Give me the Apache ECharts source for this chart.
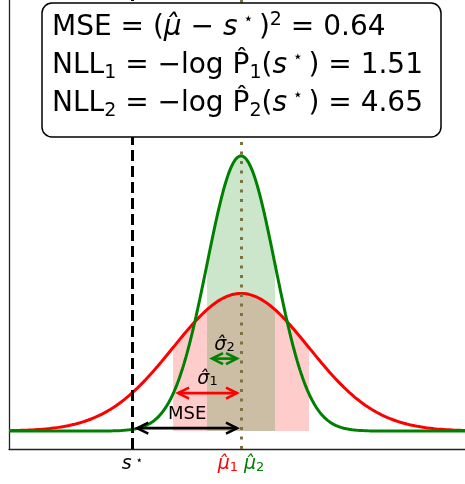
<!DOCTYPE html>
<html>
<head>
<meta charset="utf-8">
<script src="https://cdn.jsdelivr.net/npm/echarts@6/dist/echarts.min.js"></script>
<style>
  html, body { margin: 0; padding: 0; background: #fff; }
  #chart { width: 465px; height: 484px; }
</style>
</head>
<body>
<div id="chart"></div>
<script>
// Ground truth s* and two Gaussian predictions sharing the mean estimate
const sStar = -0.8;
const muHat = 0;
const sigmaHat = [0.5, 0.25];
const curveColors = ['#ff0000', '#008000'];
const xLimits = [-1.707, 1.648];
const yLimits = [-0.104, 2.499];

// Double-headed annotation arrows (start x, end x, height) and their labels
const arrowFrom = [sStar, muHat - sigmaHat[0], muHat - sigmaHat[1]];
const arrowTo = [muHat, muHat, muHat];
const arrowHeight = [0.017, 0.22, 0.42];
const arrowLabels = ['{k|MSE}', '{r|σ̂}{rs|1}', '{g|σ̂}{gs|2}'];
const arrowColors = ['#000000', '#ff0000', '#008000'];

// Metrics shown in the summary box
const metricValues = ['0.64', '1.51', '4.65'];

const FONT = 'DejaVu Sans';

function gaussPdf(x, mu, sd) {
  const z = (x - mu) / sd;
  return Math.exp(-0.5 * z * z) / (sd * Math.sqrt(2 * Math.PI));
}

// sample the densities along the x range
const N = 500;
const xs = [];
for (let i = 0; i <= N; i++) xs.push(xLimits[0] + (xLimits[1] - xLimits[0]) * i / N);

function curve(sd) {
  return xs.map(x => [x, gaussPdf(x, muHat, sd)]);
}
function band(sd) {
  const pts = [];
  const M = 120;
  for (let i = 0; i <= M; i++) {
    const x = muHat - sd + 2 * sd * i / M;
    pts.push([x, gaussPdf(x, muHat, sd)]);
  }
  return pts;
}

const labelRich = {
  k: { color: '#000', fontSize: 18, fontFamily: FONT },
  r: { color: '#ff0000', fontSize: 19, fontFamily: FONT, fontStyle: 'italic' },
  rs: { color: '#ff0000', fontSize: 13, fontFamily: FONT, verticalAlign: 'bottom', lineHeight: 12 },
  g: { color: '#008000', fontSize: 19, fontFamily: FONT, fontStyle: 'italic' },
  gs: { color: '#008000', fontSize: 13, fontFamily: FONT, verticalAlign: 'bottom', lineHeight: 12 },
  s: { color: '#000', fontSize: 19, fontFamily: FONT, fontStyle: 'italic' },
  st: { color: '#000', fontSize: 12, fontFamily: FONT, verticalAlign: 'top', lineHeight: 11 },
  sp: { fontSize: 18, fontFamily: FONT, width: 6 }
};

const boxRich = {
  it: { fontStyle: 'italic', fontSize: 28, fontFamily: FONT, lineHeight: 34 },
  sup: { fontSize: 19, fontFamily: FONT, verticalAlign: 'top', lineHeight: 18 },
  sub: { fontSize: 19, fontFamily: FONT, verticalAlign: 'bottom', lineHeight: 18 },
  star: { fontSize: 17, fontFamily: FONT, verticalAlign: 'top', lineHeight: 22 }
};

const boxLines = [
  'MSE = ({it|μ̂} − {it|s}{star| ⋆ })' + '{sup|2}' + ' = ' + metricValues[0],
  'NLL{sub|1} = −log P̂{sub|1}({it|s}{star| ⋆ }) = ' + metricValues[1],
  'NLL{sub|2} = −log P̂{sub|2}({it|s}{star| ⋆ }) = ' + metricValues[2]
];
const boxLineY = [28, 66, 104];

function renderArrow(params, api) {
  const i = params.dataIndex;
  const p1 = api.coord([api.value(0), api.value(2)]);
  const p2 = api.coord([api.value(1), api.value(2)]);
  const a = p1[0] + 5, b = p2[0] - 4, y = p1[1];
  const hl = 11, hw = 5.5;
  const color = arrowColors[i];
  const st = { stroke: color, lineWidth: 2.6, fill: null, lineJoin: 'miter' };
  return {
    type: 'group',
    children: [
      { type: 'line', shape: { x1: a, y1: y, x2: b, y2: y }, style: st },
      { type: 'polyline', shape: { points: [[a + hl, y - hw], [a, y], [a + hl, y + hw]] }, style: st },
      { type: 'polyline', shape: { points: [[b - hl, y - hw], [b, y], [b - hl, y + hw]] }, style: st },
      {
        type: 'text',
        x: (a + b) / 2, y: y - 14,
        style: {
          text: arrowLabels[i], rich: labelRich,
          align: 'center', verticalAlign: 'middle',
          fontSize: 18, fontFamily: FONT
        }
      }
    ]
  };
}

const boxChildren = [
  {
    type: 'rect', z: 100,
    shape: { x: 42, y: 3, width: 399, height: 134, r: 10 },
    style: { fill: '#fff', stroke: '#000', lineWidth: 1.5 }
  }
].concat(boxLines.map((t, i) => ({
  type: 'text', x: 52, y: boxLineY[i], z: 101,
  style: {
    text: t, rich: boxRich, fill: '#000',
    fontSize: 28, fontFamily: FONT,
    align: 'left', verticalAlign: 'middle', lineHeight: 34
  }
})));

const chart = echarts.init(document.getElementById('chart'));
chart.setOption({
  animation: false,
  grid: { left: 9, right: 0, top: 0, bottom: 35, containLabel: false },
  xAxis: {
    type: 'value', min: xLimits[0], max: xLimits[1],
    axisLine: { show: true, onZero: false, lineStyle: { color: '#222', width: 1.3 } },
    axisTick: { show: false },
    splitLine: { show: false },
    axisLabel: {
      customValues: [sStar, muHat],
      margin: 6,
      rich: labelRich,
      formatter: v => (Math.abs(v - sStar) < 1e-9 ? '{s|s}{st| ⋆}' : '{r|μ̂}{rs|1}{sp| }{g|μ̂}{gs|2}')
    }
  },
  yAxis: {
    type: 'value', min: yLimits[0], max: yLimits[1],
    axisLine: { show: true, onZero: false, lineStyle: { color: '#222', width: 1.3 } },
    axisTick: { show: false },
    axisLabel: { show: false },
    splitLine: { show: false }
  },
  series: [
    {
      type: 'line', data: band(sigmaHat[0]), showSymbol: false, symbol: 'none',
      lineStyle: { width: 0, opacity: 0 },
      areaStyle: { color: curveColors[0], opacity: 0.2, origin: 'auto' },
      silent: true, z: 1
    },
    {
      type: 'line', data: band(sigmaHat[1]), showSymbol: false, symbol: 'none',
      lineStyle: { width: 0, opacity: 0 },
      areaStyle: { color: curveColors[1], opacity: 0.2, origin: 'auto' },
      silent: true, z: 1
    },
    {
      type: 'line', data: curve(sigmaHat[0]), showSymbol: false, symbol: 'none',
      lineStyle: { color: curveColors[0], width: 3 }, silent: true, z: 2
    },
    {
      type: 'line', data: curve(sigmaHat[1]), showSymbol: false, symbol: 'none',
      lineStyle: { color: curveColors[1], width: 3 }, silent: true, z: 3
    },
    {
      type: 'custom',
      data: arrowFrom.map((x, i) => [x, arrowTo[i], arrowHeight[i]]),
      encode: { x: [0, 1], y: 2 },
      renderItem: renderArrow,
      clip: false, silent: true, z: 4
    },
    {
      type: 'line', data: [], silent: true, z: 5,
      markLine: {
        silent: true, symbol: ['none', 'none'], label: { show: false },
        data: [
          { xAxis: sStar, lineStyle: { color: '#000', width: 3, type: [11, 5] } },
          { xAxis: muHat, lineStyle: { color: '#7d7340', width: 3, type: [3, 6.5] } }
        ]
      }
    }
  ],
  graphic: [
    { type: 'group', zlevel: 1, z: 100, children: boxChildren }
  ]
});
</script>
</body>
</html>
